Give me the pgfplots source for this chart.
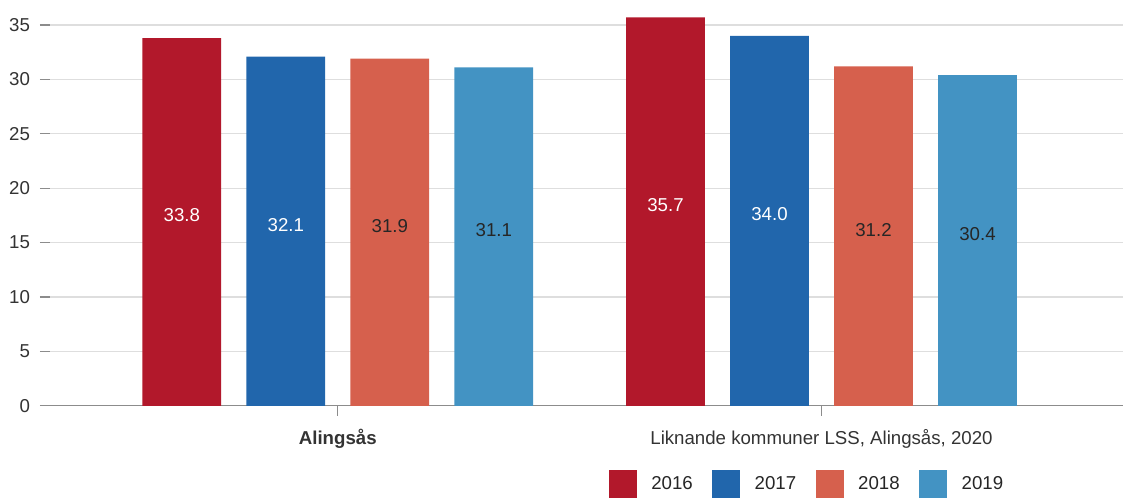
\documentclass[border=0pt]{standalone}
\usepackage{fontspec}
\setmainfont{Liberation Sans}
\usepackage{pgfplots}
\usepackage{pgfplotstable}
\pgfplotsset{compat=1.18}

\definecolor{c16}{HTML}{B2182B}
\definecolor{c17}{HTML}{2166AC}
\definecolor{c18}{HTML}{D6604D}
\definecolor{c19}{HTML}{4393C3}

\pgfplotstableread{
x v16 v17 v18 v19
0 33.8 32.1 31.9 31.1
1 35.7 34.0 31.2 30.4
}\data

\newcommand{\fnt}{\fontsize{14}{16}\selectfont}

\pgfplotsset{
  barlbl/.style={forget plot, draw=none, mark=none, nodes near coords,
    point meta=explicit,
    nodes near coords style={anchor=base, font=\fnt, text=#1,
      /pgf/number format/.cd, fixed, fixed zerofill, precision=1,
      assume math mode=true}},
}

\begin{document}
\begin{tikzpicture}
\begin{axis}[
    scale only axis,
    width=805.5pt, height=304.5pt,
    xmin=-0.595, xmax=1.624, ymin=0, ymax=37.3,
    axis x line*=bottom, axis y line*=left,
    y axis line style={draw=none},
    x axis line style={draw=black!45, line width=1pt},
    ytick={0,5,...,35},
    ymajorgrids,
    grid style={draw=black!13, line width=0.8pt},
    xtick={0,1},
    xticklabels={{\textbf{Alingsås}},{Liknande kommuner LSS, Alingsås, 2020}},
    tick align=outside,
    major tick length=7.5pt,
    tick style={draw=black!45, line width=0.8pt},
    ticklabel style={font=\fnt, text=black!80},
    xticklabel style={yshift=-6.5pt},
    yticklabel style={xshift=-4pt},
    /pgf/number format/assume math mode=true,
    legend columns=4,
    legend style={draw=none, fill=none, font=\fnt, text=black!85,
      at={(0.7055,-0.192)}, anchor=center,
      /tikz/every odd column/.append style={column sep=9pt},
      /tikz/every even column/.append style={column sep=12.5pt}},
    legend image code/.code={\fill[#1] (0pt,-10.5pt) rectangle (21pt,10.5pt);},
]
\addplot[ybar, bar width=0.163, bar shift=0pt, fill=c16, draw=none]
  table[x expr=\thisrow{x}-0.3225, y=v16]{\data};
\addplot[ybar, bar width=0.163, bar shift=0pt, fill=c17, draw=none]
  table[x expr=\thisrow{x}-0.1075, y=v17]{\data};
\addplot[ybar, bar width=0.163, bar shift=0pt, fill=c18, draw=none]
  table[x expr=\thisrow{x}+0.1075, y=v18]{\data};
\addplot[ybar, bar width=0.163, bar shift=0pt, fill=c19, draw=none]
  table[x expr=\thisrow{x}+0.3225, y=v19]{\data};
\legend{2016,2017,2018,2019}

\addplot[barlbl=white]
  table[x expr=\thisrow{x}-0.3225, y expr=\thisrow{v16}/2, meta=v16]{\data};
\addplot[barlbl=white]
  table[x expr=\thisrow{x}-0.1075, y expr=\thisrow{v17}/2, meta=v17]{\data};
\addplot[barlbl=black!85]
  table[x expr=\thisrow{x}+0.1075, y expr=\thisrow{v18}/2, meta=v18]{\data};
\addplot[barlbl=black!85]
  table[x expr=\thisrow{x}+0.3225, y expr=\thisrow{v19}/2, meta=v19]{\data};
\end{axis}
\path (current axis.south west) ++(-37.5pt,-70.5pt);
\end{tikzpicture}
\end{document}
